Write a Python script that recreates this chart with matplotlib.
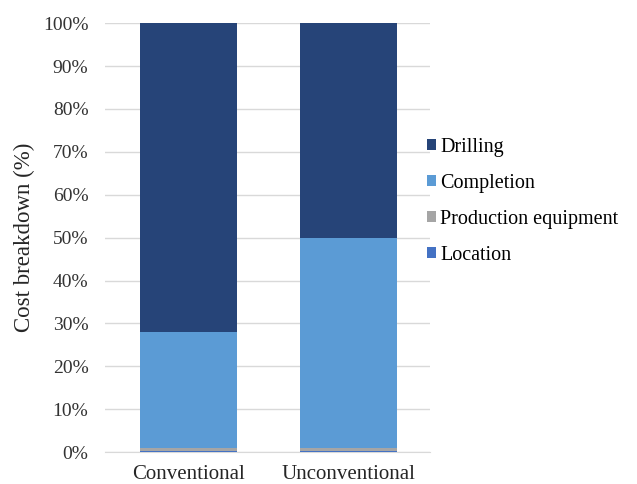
import matplotlib.pyplot as plt
import numpy as np

plt.rcParams['font.family'] = ['Liberation Serif', 'DejaVu Serif']

categories = ["Conventional", "Unconventional"]
series = ["Location", "Production equipment", "Completion", "Drilling"]
location = [0.3, 0.3]
production = [0.7, 0.7]
completion = [27.0, 49.0]
drilling = [72.0, 50.0]
colors = {"Drilling": "#264478", "Completion": "#5B9BD5",
          "Production equipment": "#A5A5A5", "Location": "#4472C4"}

values = {"Location": location, "Production equipment": production,
          "Completion": completion, "Drilling": drilling}

fig = plt.figure(figsize=(6.37, 4.84), dpi=100)
ax = fig.add_axes([0.165, 0.066, 0.51, 0.886])

x = np.arange(len(categories))
bottom = np.zeros(len(categories))
bars = {}
for name in series:
    bars[name] = ax.bar(x, values[name], 0.61, bottom=bottom, color=colors[name],
                        label=name, zorder=3)
    bottom += np.array(values[name])

ax.set_xlim(-0.52, 1.51)
ax.set_ylim(0, 100)
ax.set_yticks(np.arange(0, 101, 10))
ax.set_yticklabels([f"{v}%" for v in range(0, 101, 10)], fontsize=14, color="#333333")
ax.set_xticks(x)
ax.set_xticklabels(categories, fontsize=15, color="#262626")
ax.set_ylabel("Cost breakdown (%)", fontsize=16.5, color="#262626")
ax.yaxis.set_label_coords(-0.215, 0.5)
ax.grid(axis="y", color="#D9D9D9", linewidth=1, zorder=0)
ax.tick_params(axis="y", length=0, pad=12)
ax.tick_params(axis="x", length=0, pad=9)
for s in ["top", "right", "left"]:
    ax.spines[s].set_visible(False)
ax.spines["bottom"].set_color("#D9D9D9")

handles = [bars[n] for n in ["Drilling", "Completion", "Production equipment", "Location"]]
ax.legend(handles, ["Drilling", "Completion", "Production equipment", "Location"],
          loc="center left", bbox_to_anchor=(0.935, 0.585), frameon=False,
          fontsize=14.5, handlelength=0.45, handleheight=0.45, handletextpad=0.2,
          labelspacing=0.85)

fig.savefig("out.png", dpi=100)
